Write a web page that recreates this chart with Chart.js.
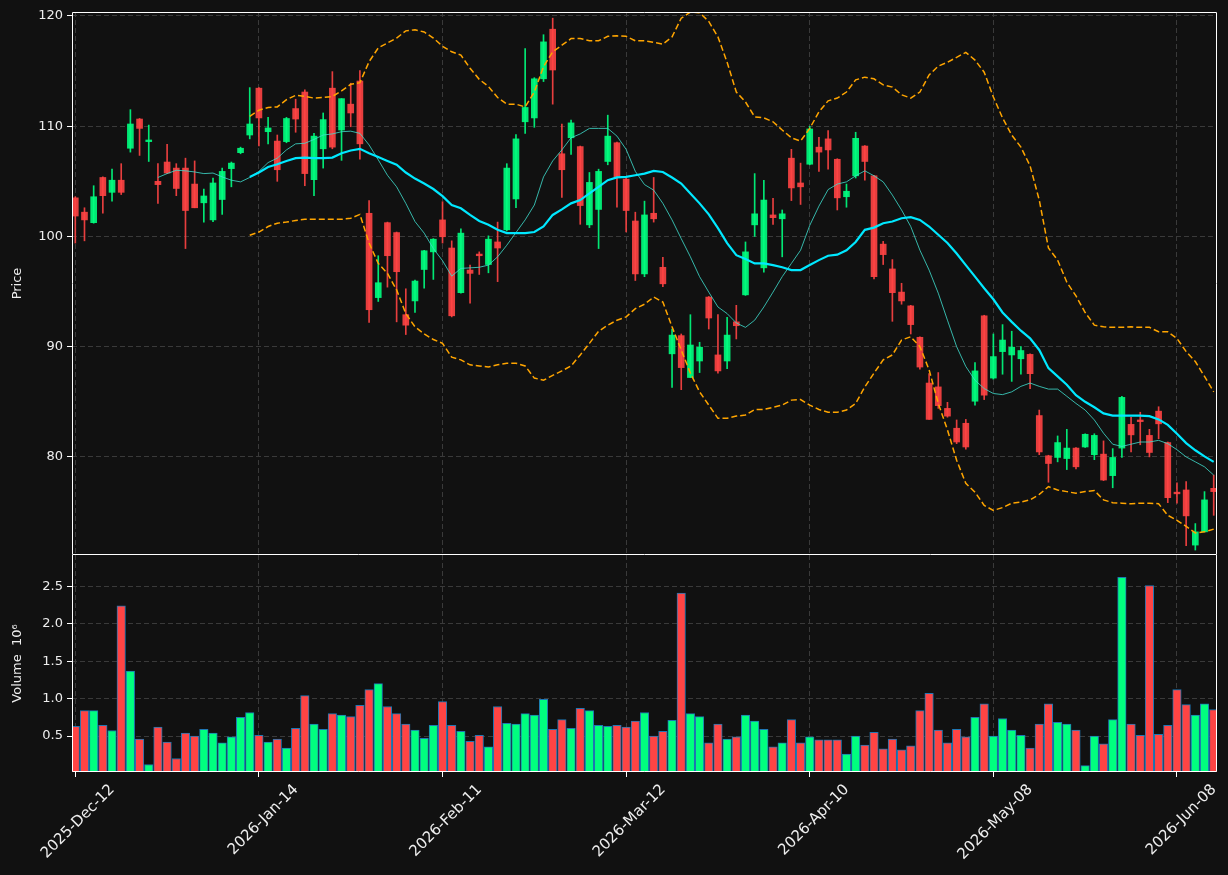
<!DOCTYPE html>
<html>
<head>
<meta charset="utf-8">
<script src="https://cdn.jsdelivr.net/npm/chart.js@4.4.1/dist/chart.umd.min.js"></script>
<style>
html, body { margin: 0; padding: 0; background: #111111; }
#wrap { position: relative; width: 1228px; height: 875px; }
#priceChart { position: absolute; left: 0; top: 0; }
#volChart { position: absolute; left: 0; top: 555px; }
</style>
</head>
<body>
<div id="wrap">
<canvas id="priceChart" width="1228" height="556"></canvas>
<canvas id="volChart" width="1228" height="320"></canvas>
</div>
<script>
// tick labels shown every 20 sessions
var dateLabels = ['2025-Dec-12', '2026-Jan-14', '2026-Feb-11', '2026-Mar-12', '2026-Apr-10', '2026-May-08', '2026-Jun-08'];

var opens = [103.5,102.2,101.25,105.35,104.0,105.1,108.0,110.65,108.6,105.0,
106.75,106.2,106.2,104.75,103.05,101.5,103.35,106.15,107.6,109.2,
113.45,109.5,108.65,108.6,111.6,113.1,105.15,107.95,113.45,109.65,
112.0,114.1,102.1,94.45,101.25,100.35,92.9,94.15,97.0,98.6,
101.5,98.95,94.9,96.95,98.4,97.45,99.5,100.6,103.4,110.4,
110.75,114.3,118.8,107.5,108.95,108.15,101.05,102.45,106.8,108.5,
105.2,101.4,96.6,102.1,97.2,89.35,91.0,87.2,88.7,94.5,
89.25,88.7,92.25,94.7,101.05,97.15,101.95,101.6,107.1,104.85,
106.55,108.1,108.85,107.0,103.6,105.5,108.2,105.5,99.3,97.05,
94.95,93.7,90.85,86.7,86.35,84.4,82.6,83.05,85.05,92.8,
87.15,89.55,89.25,88.9,89.3,83.75,80.1,79.95,79.85,80.8,
80.9,80.2,80.25,78.3,80.8,82.95,83.35,81.95,84.15,81.3,
76.8,77.0,72.0,73.2,77.15];

var highs = [103.6,102.6,104.6,105.4,106.1,106.6,111.5,110.7,110.1,106.6,
108.35,106.6,107.1,106.85,104.3,105.3,106.2,106.75,108.1,113.5,
113.5,110.8,109.2,110.8,112.45,113.3,109.35,111.2,114.95,112.5,
113.9,115.05,103.25,98.25,101.3,100.4,95.25,96.05,98.75,99.8,
103.15,99.6,100.7,97.4,98.6,100.05,101.3,106.6,109.25,117.05,
114.4,118.3,119.8,110.2,110.55,108.2,105.8,106.1,111.0,108.55,
105.3,102.2,103.2,105.35,98.1,91.6,91.15,92.9,90.4,94.55,
92.9,92.65,93.75,99.5,105.7,105.1,103.45,102.4,107.9,106.65,
110.0,109.0,109.6,107.05,104.75,109.45,108.25,105.55,99.55,97.9,
95.75,93.75,90.9,87.55,87.65,84.95,83.35,83.4,88.55,92.85,
91.15,92.0,91.4,90.0,89.35,84.25,80.15,81.9,82.5,80.85,
82.1,82.1,81.45,80.75,85.5,83.6,84.05,82.5,84.55,81.35,
77.65,77.75,73.95,76.85,78.35];

var lows = [99.4,99.6,101.2,102.1,103.2,103.8,107.65,107.35,106.8,103.0,
105.7,103.7,98.9,102.6,101.3,101.35,102.0,104.5,107.5,108.85,
108.2,108.4,105.0,108.5,109.45,104.6,103.7,106.2,107.95,106.9,
109.95,107.0,92.2,94.1,95.4,92.25,91.1,93.1,95.3,96.1,
99.4,92.7,94.85,93.95,96.55,96.7,95.9,100.5,102.6,109.35,
109.9,114.05,112.0,103.55,107.45,101.1,100.8,98.9,106.5,102.65,
100.4,96.0,96.35,101.3,95.45,86.3,86.1,87.2,87.65,91.6,
87.6,88.0,90.7,94.65,100.0,96.75,101.1,98.15,103.25,102.9,
106.5,105.9,106.1,102.4,102.65,105.3,105.1,96.15,97.45,92.3,
93.85,91.15,87.95,83.4,84.4,83.6,81.2,80.7,84.7,85.2,
87.05,87.5,86.85,87.5,86.2,80.2,77.7,79.55,78.85,78.9,
80.85,79.75,77.85,77.2,79.95,80.45,81.1,80.0,81.65,75.85,
75.8,71.95,71.55,73.2,74.7];

var closes = [101.85,101.5,103.6,103.7,105.1,104.0,110.2,109.8,108.75,104.7,
105.75,104.35,102.35,102.6,103.67,104.85,105.9,106.65,108.0,110.2,
110.75,109.84,106.05,110.7,110.65,105.7,109.1,110.6,108.1,112.5,
111.2,108.4,93.35,95.8,98.25,96.8,91.95,95.95,98.7,99.75,
99.97,92.8,100.3,96.65,98.25,99.75,98.95,106.2,108.85,111.7,
114.3,117.65,115.1,106.05,110.3,102.8,104.9,105.9,109.1,105.35,
102.35,96.6,101.95,101.6,95.7,91.05,88.1,90.15,89.95,92.6,
87.8,91.05,91.9,98.6,102.05,103.3,101.7,102.05,104.4,104.5,
109.75,107.65,107.85,103.5,104.1,108.9,106.8,96.35,98.35,94.9,
94.15,92.0,88.15,83.4,84.65,83.7,81.35,80.9,87.8,85.6,
89.1,90.6,89.95,89.65,87.55,80.45,79.4,81.3,80.8,79.1,
82.05,81.95,77.9,79.95,85.4,82.0,83.2,80.4,83.0,76.3,
76.65,74.65,73.2,76.1,76.85];

// volume in millions
var volumes = [0.63,0.84,0.84,0.645,0.575,2.24,1.37,0.46,0.12,0.62,
0.42,0.20,0.54,0.50,0.59,0.54,0.41,0.49,0.75,0.815,
0.51,0.42,0.46,0.34,0.605,1.04,0.66,0.59,0.80,0.78,
0.76,0.91,1.12,1.20,0.895,0.80,0.66,0.58,0.47,0.645,
0.96,0.645,0.565,0.43,0.51,0.355,0.895,0.67,0.66,0.80,
0.78,0.99,0.59,0.72,0.605,0.87,0.84,0.645,0.63,0.645,
0.62,0.70,0.815,0.50,0.565,0.71,2.41,0.80,0.76,0.41,
0.66,0.46,0.49,0.78,0.70,0.59,0.355,0.41,0.72,0.41,
0.49,0.45,0.45,0.45,0.26,0.50,0.38,0.55,0.33,0.46,
0.315,0.37,0.84,1.07,0.58,0.41,0.59,0.49,0.75,0.93,
0.50,0.735,0.58,0.51,0.34,0.66,0.93,0.685,0.66,0.58,
0.105,0.50,0.395,0.72,2.62,0.66,0.51,2.51,0.525,0.645,
1.12,0.92,0.78,0.93,0.855];

// short and long moving averages
var ma10 = [null,null,null,null,null,null,null,null,null,
105.35,105.7,106.0,105.95,105.85,105.7,105.75,105.4,105.1,104.95,105.35,
105.9,106.7,107.1,107.85,108.4,108.45,108.8,109.2,109.3,109.5,
109.55,109.35,108.3,106.95,105.55,104.5,103.0,101.35,100.3,98.9,
97.8,96.4,97.1,97.15,97.2,97.4,98.15,99.2,100.35,101.5,
102.85,105.4,106.85,107.85,108.95,109.3,109.8,109.8,109.8,109.1,
107.9,105.9,104.7,104.2,103.0,101.5,99.8,98.15,96.35,94.95,
93.6,93.0,92.15,91.75,92.4,93.6,94.95,96.35,97.55,98.75,
101.0,102.75,104.25,104.75,104.95,105.5,105.95,105.5,104.95,103.75,
102.4,100.9,98.75,96.95,94.85,92.4,90.0,88.2,86.95,86.2,
85.75,85.65,85.9,86.4,86.7,86.4,86.15,86.15,85.5,84.85,
84.25,83.35,82.15,81.15,80.95,81.15,81.35,81.35,81.5,81.2,
80.65,80.0,79.55,79.1,78.35];

var ma20 = [null,null,null,null,null,null,null,null,null,null,
null,null,null,null,null,null,null,null,null,105.4,
105.8,106.3,106.55,106.85,107.1,107.15,107.1,107.1,107.15,107.55,
107.8,107.95,107.55,107.2,106.85,106.5,105.8,105.25,104.8,104.3,
103.65,102.85,102.55,101.95,101.4,101.05,100.6,100.3,100.3,100.3,
100.4,100.9,101.95,102.45,103.0,103.3,103.9,104.5,105.1,105.35,
105.4,105.55,105.7,105.95,105.85,105.35,104.8,103.9,103.0,102.0,
100.75,99.4,98.3,97.95,97.55,97.55,97.4,97.2,96.95,96.95,
97.4,97.85,98.25,98.35,98.75,99.5,100.6,100.8,101.2,101.35,
101.65,101.75,101.5,100.9,100.15,99.4,98.45,97.4,96.35,95.3,
94.3,93.1,92.25,91.45,90.75,89.7,88.05,87.3,86.55,85.6,
85.0,84.5,83.95,83.75,83.75,83.75,83.75,83.7,83.4,82.9,
82.1,81.25,80.6,80.05,79.55];

// bollinger bands
var bbUpper = [null,null,null,null,null,null,null,null,null,null,
null,null,null,null,null,null,null,null,null,110.9,
111.45,111.7,111.75,112.4,112.8,112.7,112.55,112.6,112.7,113.2,
113.8,113.95,115.85,117.1,117.55,118.0,118.65,118.75,118.55,118.0,
117.25,116.75,116.45,115.25,114.25,113.6,112.6,112.0,112.0,111.75,
113.1,115.4,116.75,117.35,117.95,117.95,117.75,117.75,118.15,118.2,
118.15,117.75,117.75,117.6,117.45,118.1,119.8,120.35,120.3,119.5,
118.1,115.8,113.1,112.2,110.85,110.75,110.4,109.65,108.95,108.65,
109.8,111.3,112.3,112.55,113.1,114.2,114.45,114.3,113.75,113.55,
112.85,112.55,113.1,114.65,115.45,115.8,116.25,116.7,116.0,114.9,
112.65,110.75,109.2,108.1,106.4,103.3,98.95,97.85,95.85,94.6,
93.1,91.95,91.8,91.75,91.75,91.8,91.75,91.75,91.35,91.35,
90.75,89.55,88.65,87.3,85.9];

var bbLower = [null,null,null,null,null,null,null,null,null,null,
null,null,null,null,null,null,null,null,null,100.1,
100.4,100.9,101.2,101.3,101.45,101.55,101.55,101.55,101.55,101.55,
101.65,102.0,99.4,97.55,96.65,95.15,93.0,91.8,91.15,90.65,
90.3,89.05,88.8,88.35,88.25,88.15,88.35,88.5,88.5,88.25,
87.15,86.95,87.4,87.8,88.25,89.25,90.3,91.4,91.95,92.4,
92.7,93.45,93.85,94.5,94.05,91.8,89.7,87.6,85.9,84.7,
83.5,83.5,83.7,83.8,84.3,84.3,84.5,84.7,85.15,85.2,
84.7,84.3,84.05,84.05,84.25,84.85,86.35,87.6,88.8,89.25,
90.6,90.9,90.0,87.9,84.85,82.45,79.7,77.6,76.8,75.6,
75.15,75.4,75.8,75.9,76.1,76.6,77.3,77.0,76.85,76.7,
76.85,76.95,76.1,75.85,75.8,75.75,75.8,75.8,75.75,74.7,
74.25,73.7,73.1,73.2,73.45];

var upCandle = 'rgba(0,255,127,0.9)';
var downCandle = 'rgba(255,68,68,0.9)';
var upVol = '#00ff7f';
var downVol = '#ff4444';
var gridColor = '#3a3a3a';
var textColor = '#eeeeee';
var font = { family: 'DejaVu Sans', size: 13 };

var candleColors = [];
var volColors = [];
for (var i = 0; i < closes.length; i++) {
    var up = closes[i] >= opens[i];
    candleColors.push(up ? upCandle : downCandle);
    volColors.push(up ? upVol : downVol);
}

function pts(arr) {
    return arr.map(function (v, i) { return { x: i, y: v }; });
}

// no extra room for half tick labels, panels must butt together
function noPad(s) {
    s.paddingTop = 0;
    s.paddingBottom = 0;
    s.paddingLeft = 0;
    s.paddingRight = 0;
}

// white box round each panel (volume panel shares its top edge)
var framePlugin = {
    id: 'frame',
    afterDraw: function (chart, args, opts) {
        var a = chart.chartArea;
        var ctx = chart.ctx;
        var l = Math.round(a.left) + 0.5, r = Math.round(a.right) - 0.5;
        var t = Math.round(a.top) + 0.5, b = Math.round(a.bottom) - 0.5;
        ctx.save();
        ctx.strokeStyle = '#ffffff';
        ctx.lineWidth = 1;
        ctx.beginPath();
        if (opts.skipTop) {
            ctx.moveTo(l, a.top);
            ctx.lineTo(l, b);
            ctx.lineTo(r, b);
            ctx.lineTo(r, a.top);
        } else {
            ctx.rect(l, t, r - l, b - t);
        }
        ctx.stroke();
        ctx.restore();
    }
};

var xMin = -0.36, xMax = 124.36;

new Chart(document.getElementById('priceChart').getContext('2d'), {
    type: 'bar',
    data: {
        datasets: [
            { type: 'line', data: pts(ma10), borderColor: 'rgba(64,224,208,0.8)', borderWidth: 1, pointRadius: 0, order: 1 },
            { type: 'line', data: pts(ma20), borderColor: '#00e8ff', borderWidth: 2.2, pointRadius: 0, order: 0 },
            { type: 'line', data: pts(bbUpper), borderColor: '#ffa500', borderWidth: 1.5, borderDash: [6, 3], pointRadius: 0, order: 0 },
            { type: 'line', data: pts(bbLower), borderColor: '#ffa500', borderWidth: 1.5, borderDash: [6, 3], pointRadius: 0, order: 0 },
            {
                data: closes.map(function (c, i) { return { x: i, y: [lows[i], highs[i]] }; }),
                backgroundColor: candleColors, barThickness: 1, grouped: false, order: 3
            },
            {
                data: closes.map(function (c, i) { return { x: i, y: [opens[i], c] }; }),
                backgroundColor: candleColors, barThickness: 6, minBarLength: 1, grouped: false, order: 2
            }
        ]
    },
    options: {
        responsive: false,
        animation: false,
        devicePixelRatio: 1,
        layout: { padding: { top: 12, right: 11, left: 0, bottom: 1 } },
        plugins: { legend: { display: false }, tooltip: { enabled: false }, frame: { skipTop: false } },
        scales: {
            x: {
                type: 'linear', min: xMin, max: xMax, offset: false,
                afterFit: function (s) { s.height = 0; noPad(s); },
                ticks: { display: false, stepSize: 20, includeBounds: false },
                grid: { color: gridColor, drawTicks: false, offset: false },
                border: { display: false, dash: [5, 3] }
            },
            y: {
                min: 71.1, max: 120.36,
                afterFit: function (s) { s.width = 72; noPad(s); },
                ticks: { stepSize: 10, includeBounds: false, color: textColor, font: font, padding: 4 },
                grid: { color: gridColor, tickColor: '#ffffff', tickLength: 5, tickBorderDash: [] },
                border: { display: false, dash: [5, 3] },
                title: { display: true, text: 'Price', color: textColor, font: font, padding: { top: 10, bottom: 0 } }
            }
        }
    },
    plugins: [framePlugin]
});

new Chart(document.getElementById('volChart').getContext('2d'), {
    type: 'bar',
    data: {
        datasets: [{
            data: pts(volumes),
            backgroundColor: volColors,
            borderColor: '#1f77b4',
            borderWidth: 1,
            barThickness: 8.5,
            grouped: false
        }]
    },
    options: {
        responsive: false,
        animation: false,
        devicePixelRatio: 1,
        layout: { padding: { top: 0, right: 11, left: 0, bottom: 0 } },
        plugins: { legend: { display: false }, tooltip: { enabled: false }, frame: { skipTop: true } },
        scales: {
            x: {
                type: 'linear', min: xMin, max: xMax, offset: false,
                afterFit: function (s) { s.height = 103; noPad(s); },
                ticks: {
                    stepSize: 20, includeBounds: false, color: textColor, font: { family: 'DejaVu Sans', size: 15 },
                    minRotation: 45, maxRotation: 45, labelOffset: 37, padding: 4,
                    callback: function (v) { return dateLabels[Math.round(v / 20)] || ''; }
                },
                grid: { color: gridColor, tickColor: '#ffffff', tickLength: 5, tickBorderDash: [], offset: false },
                border: { display: false, dash: [5, 3] }
            },
            y: {
                min: 0.02, max: 2.92,
                afterFit: function (s) { s.width = 72; noPad(s); },
                ticks: {
                    stepSize: 0.5, includeBounds: false, color: textColor, font: font, padding: 4,
                    callback: function (v) { return v.toFixed(1); }
                },
                grid: { color: gridColor, tickColor: '#ffffff', tickLength: 5, tickBorderDash: [] },
                border: { display: false, dash: [5, 3] },
                title: { display: true, text: 'Volume  10\u2076', color: textColor, font: font, padding: { top: 10, bottom: 0 } }
            }
        }
    },
    plugins: [framePlugin]
});
</script>
</body>
</html>
